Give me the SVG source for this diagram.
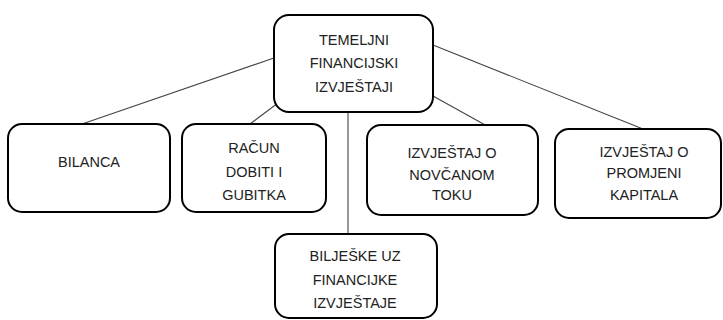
<svg xmlns="http://www.w3.org/2000/svg" width="723" height="320" viewBox="0 0 723 320">
<style>
.box{fill:#fff;stroke:#000;stroke-width:2}
.t{font-family:"Liberation Sans",Arial,sans-serif;font-size:14.5px;fill:#222;text-anchor:middle}
.c{stroke:#444;stroke-width:1.1;fill:none}
</style>
<rect width="723" height="320" fill="#fff"/>
<g id="connectors">
<line class="c" x1="274" y1="58" x2="82" y2="124"/>
<line class="c" x1="278" y1="103" x2="250" y2="124"/>
<line class="c" x1="348" y1="112" x2="348" y2="234"/>
<line class="c" x1="433" y1="96" x2="487" y2="126"/>
<line class="c" x1="433" y1="45" x2="643" y2="129"/>
</g>
<g id="n-root">
<rect class="box" x="274" y="15" width="159" height="97" rx="15"/>
<text class="t" x="354" y="45">TEMELJNI</text>
<text class="t" x="354" y="68">FINANCIJSKI</text>
<text class="t" x="354" y="92">IZVJEŠTAJI</text>
</g>
<g id="n-bilanca">
<rect class="box" x="8" y="124" width="162" height="88" rx="14"/>
<text class="t" x="89" y="167">BILANCA</text>
</g>
<g id="n-racun">
<rect class="box" x="182" y="124" width="144" height="88" rx="14"/>
<text class="t" x="254" y="153">RAČUN</text>
<text class="t" x="254" y="177">DOBITI I</text>
<text class="t" x="254" y="200">GUBITKA</text>
</g>
<g id="n-novcani">
<rect class="box" x="367" y="125" width="171" height="90" rx="14"/>
<text class="t" x="452" y="158">IZVJEŠTAJ O</text>
<text class="t" x="452" y="180">NOVČANOM</text>
<text class="t" x="452" y="200">TOKU</text>
</g>
<g id="n-kapital">
<rect class="box" x="555" y="129" width="166" height="89" rx="14"/>
<text class="t" x="644" y="157">IZVJEŠTAJ O</text>
<text class="t" x="644" y="178">PROMJENI</text>
<text class="t" x="644" y="200">KAPITALA</text>
</g>
<g id="n-biljeske">
<rect class="box" x="275" y="234" width="162" height="84" rx="14"/>
<text class="t" x="355" y="261">BILJEŠKE UZ</text>
<text class="t" x="355" y="285">FINANCIJKE</text>
<text class="t" x="355" y="308">IZVJEŠTAJE</text>
</g>
</svg>
